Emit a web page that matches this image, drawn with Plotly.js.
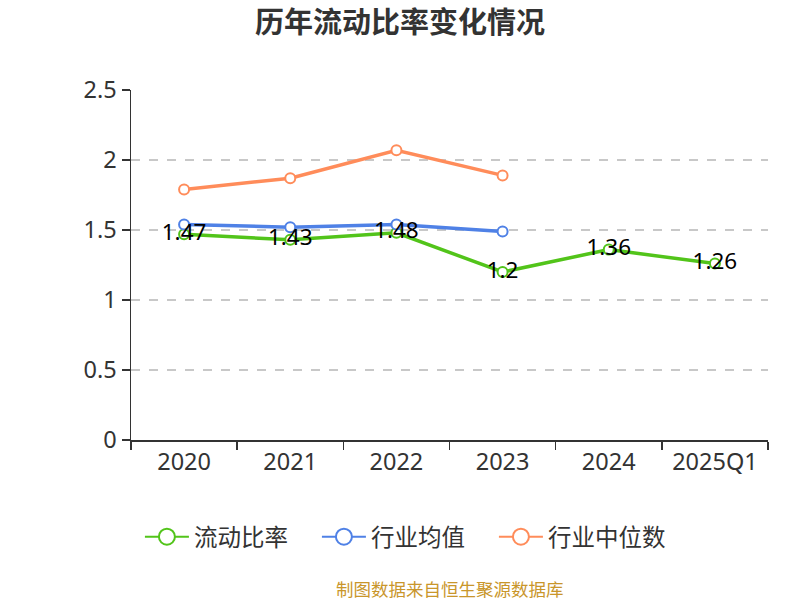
<!DOCTYPE html>
<html><head><meta charset="utf-8">
<script src="https://cdn.plot.ly/plotly-3.0.1.min.js"></script>
<style>html,body{margin:0;padding:0;background:#fff}</style>
</head><body>
<div id="chart" style="width:800px;height:600px"></div>
<script>
const categories = ["2020","2021","2022","2023","2024","2025Q1"];
const currentRatio = [1.47,1.43,1.48,1.2,1.36,1.26];
const industryMean = [1.54,1.52,1.54,1.49,null,null];
const industryMedian = [1.79,1.87,2.07,1.89,null,null];
const seriesNames = ['流动比率','行业均值','行业中位数'];
const seriesColors = ['#52c41a','#4f81e6','#ff8c5a'];
const yTicks = [0,0.5,1,1.5,2,2.5];
const yTickLabels = ["0","0.5","1","1.5","2","2.5"];

const font = '"Noto Sans CJK SC","Noto Sans",sans-serif';
const numFont = '"Noto Sans","Open Sans",sans-serif';
function series(name, y, color){
  return {
    type:'scatter', mode:'lines+markers', name:name, x:categories, y:y,
    line:{color:color,width:3.5},
    marker:{symbol:'circle',size:10,color:'#ffffff',line:{color:color,width:2}},
    cliponaxis:false, showlegend:false, hoverinfo:'skip'
  };
}
const values = [currentRatio, industryMean, industryMedian];
const data = values.map((v,i)=>series(seriesNames[i], v, seriesColors[i]));
// legend entries
seriesNames.forEach((n,i)=>data.push({type:'scatter',mode:'lines+markers',name:n,x:[null],y:[null],
  line:{color:seriesColors[i],width:2},marker:{symbol:'circle',size:16,color:'#fff',line:{color:seriesColors[i],width:2}}}));
// data labels
data.push({type:'scatter',mode:'text',x:categories,y:currentRatio,text:currentRatio.map(String),
  textposition:'middle center',textfont:{size:22.5,color:'#000',family:numFont},showlegend:false,hoverinfo:'skip',cliponaxis:false});

const layout = {
  width:800,height:600,
  margin:{l:131,r:32,t:90,b:160},
  paper_bgcolor:'#fff',plot_bgcolor:'#fff',
  font:{family:font,color:'#333'},
  title:{text:'<b>历年流动比率变化情况</b>',x:0.5,xanchor:'center',y:0.962,yanchor:'middle',font:{size:29,color:'#333',family:font}},
  xaxis:{type:'category',range:[-0.5,5.5],tickson:'boundaries',ticks:'outside',ticklen:8,tickwidth:1.5,tickcolor:'#333',
    showline:true,linecolor:'#333',linewidth:1.5,showgrid:false,tickfont:{size:23.5,color:'#333',family:numFont},zeroline:false},
  yaxis:{range:[0,2.5],tickvals:yTicks,ticktext:yTickLabels,ticks:'outside',ticklen:8,tickwidth:1.5,tickcolor:'#333',
    showline:true,linecolor:'#333',linewidth:1.5,showgrid:true,gridcolor:'#c8c8c8',griddash:'dash',gridwidth:1.2,
    zeroline:false,tickfont:{size:23.5,color:'#333',family:numFont}},
  showlegend:true,
  legend:{orientation:'h',x:0.014,xanchor:'left',y:-0.277,yanchor:'middle',font:{size:23.5,color:'#333',family:font},
    itemwidth:44,entrywidth:118,entrywidthmode:'pixels'},
  annotations:[{text:'制图数据来自恒生聚源数据库',xref:'paper',yref:'paper',x:0.5,xanchor:'center',y:-0.4229,yanchor:'middle',showarrow:false,
    borderpad:0,font:{size:17.5,color:'#c9962b',family:font}}]
};
Plotly.newPlot('chart',data,layout,{displayModeBar:false,staticPlot:true});
</script>
</body></html>
